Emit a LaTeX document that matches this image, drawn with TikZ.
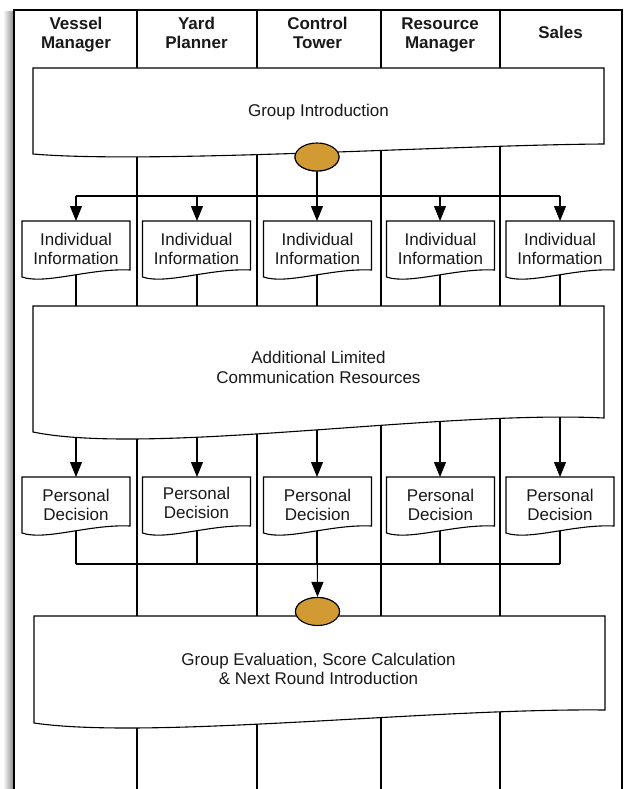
\documentclass[tikz,border=0pt]{standalone}
\usepackage{fontspec}
\setmainfont{Liberation Sans}
\usetikzlibrary{arrows.meta,shapes.geometric}
\definecolor{gold}{HTML}{D29A32}
\begin{document}
\begin{tikzpicture}[x=1pt,y=-1pt,line width=1.1pt,
  arr/.style={-{Triangle[length=15pt,width=12pt]}},
  boxst/.style={draw,fill=white,line join=miter},
  lbl/.style={font=\fontsize{17}{19}\selectfont,inner sep=0,anchor=base,text=black!90},
  hdr/.style={font=\fontsize{17}{19}\selectfont\bfseries,inner sep=0,anchor=base,text=black!90},
  dot/.style={draw,fill=gold,ellipse,minimum width=44pt,minimum height=28pt,inner sep=0}]
\useasboundingbox (0,0) rectangle (624,789);
% soft shadow at left of frame
\shade[left color=white,right color=black!45,draw=none] (3,12) rectangle (13.4,789);
% frame and lane dividers
\draw (14,789) -- (14,10) -- (622,10) -- (622,789);
\foreach \x in {137,257,381,500} \draw (\x,10) -- (\x,789);
% headers
\node[hdr] (h1a) at (76,29.3) {Vessel};
\node[hdr] (h1b) at (76,48.3) {Manager};
\node[hdr] (h2a) at (196.5,29.3) {Yard};
\node[hdr] (h2b) at (196.5,48.3) {Planner};
\node[hdr] (h3a) at (317.5,29.3) {Control};
\node[hdr] (h3b) at (317.5,48.3) {Tower};
\node[hdr] (h4a) at (440,29.3) {Resource};
\node[hdr] (h4b) at (440,48.3) {Manager};
\node[hdr] (h5) at (560.5,39) {Sales};
% named points
\node[dot] (e1) at (317,157) {};
\node[dot] (e2) at (317.5,611.5) {};
\foreach \i/\c in {1/76,2/197,3/317,4/440,5/560}{
  \coordinate (sp\i) at (\c,196);
  \coordinate (iiT\i) at (\c,221);
  \coordinate (iiB\i) at (\c,255);
  \coordinate (adT\i) at (\c,306);
  \coordinate (adB\i) at (\c,400);
  \coordinate (pdT\i) at (\c,477);
  \coordinate (pdB\i) at (\c,510);
  \coordinate (mg\i) at (\c,564);
}
% connectors (drawn below boxes)
\draw (sp1) -- (sp5);
\foreach \i in {1,2,4,5} \draw[arr] (sp\i) -- (iiT\i);
\draw[arr] (e1.south) -- (iiT3);
\foreach \i in {1,...,5} \draw (iiB\i) -- (adT\i);
\foreach \i in {1,...,5} \draw[arr] (adB\i) -- (pdT\i);
\foreach \i in {1,...,5} \draw (pdB\i) -- (mg\i);
\draw (mg1) -- (mg5);
\draw[arr] (pdB3) -- (e2.north);
% big document boxes
\path[boxst] (33,68) -- (604,68) -- (604,144) .. controls (450,145) and (150,164) .. (33,154) -- cycle;
\path[boxst] (33,306) -- (604,306) -- (604,418) .. controls (440,410) and (150,456) .. (33,432) -- cycle;
\path[boxst] (34,616) -- (605,616) -- (605,710) .. controls (430,708) and (150,740) .. (34,723) -- cycle;
% small document boxes
\foreach \c in {76,196.5,317.5,440.5,560}{
  \path[boxst] ({\c-54},221) -- ({\c+54},221) -- ({\c+54},270) .. controls ({\c+14},268) and ({\c-31},285) .. ({\c-54},277) -- cycle;
  \path[boxst] ({\c-54},477) -- ({\c+54},477) -- ({\c+54},526) .. controls ({\c+14},524) and ({\c-31},541) .. ({\c-54},533) -- cycle;
}
% ellipses on top
\node[dot] at (e1) {};
\node[dot] at (e2) {};
% texts
\node[lbl] (t1) at (318.5,116.7) {Group Introduction};
\foreach \i/\c in {1/76,2/196.5,3/317.5,4/440.5,5/560}{
  \node[lbl] (ii\i a) at (\c,245.3) {Individual};
  \node[lbl] (ii\i b) at (\c,264) {Information};
}
\node[lbl] (t2a) at (318.5,363.5) {Additional Limited};
\node[lbl] (t2b) at (318.5,383) {Communication Resources};
\foreach \i/\c/\d in {1/76/0,2/196.5/1.5,3/317.5/0,4/440.5/0,5/560/0}{
  \node[lbl] (pd\i a) at (\c,501-\d) {Personal};
  \node[lbl] (pd\i b) at (\c,520-\d) {Decision};
}
\node[lbl] (t3a) at (318.5,665.7) {Group Evaluation, Score Calculation};
\node[lbl] (t3b) at (318.5,684.3) {\& Next Round Introduction};
\end{tikzpicture}
\end{document}
